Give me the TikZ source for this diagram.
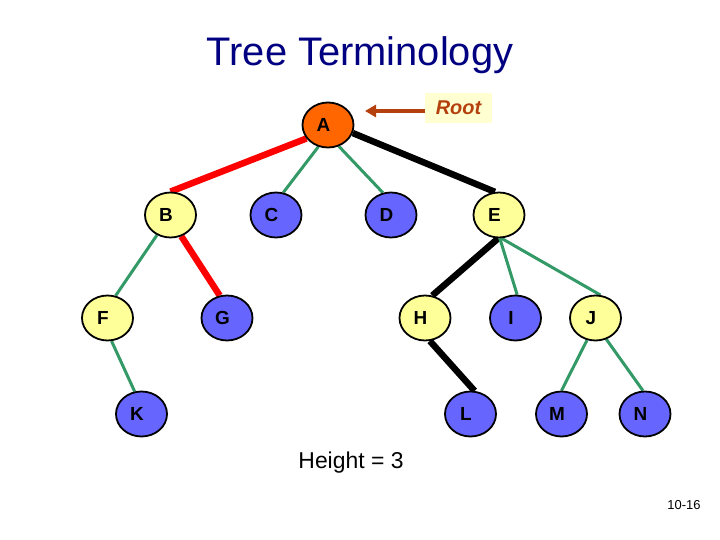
\documentclass[tikz,border=0pt]{standalone}
\usepackage{fontspec}
\setmainfont{Liberation Sans}
\usetikzlibrary{shapes.geometric,arrows.meta}
\pgfdeclarelayer{background}
\pgfsetlayers{background,main}
\definecolor{nyellow}{HTML}{FFFF99}
\definecolor{nblue}{HTML}{6666FF}
\definecolor{norange}{HTML}{FF6600}
\definecolor{egreen}{HTML}{339966}
\definecolor{ered}{HTML}{FF0000}
\definecolor{rootbrown}{HTML}{B4400E}
\definecolor{rootfill}{HTML}{FFFFD2}
\definecolor{titleblue}{HTML}{000080}
\tikzset{
  treenode/.style={ellipse, draw=black, line width=1.8bp, minimum width=51bp, minimum height=45bp, inner sep=0pt,
    font=\fontsize{19}{21}\selectfont\bfseries},
  yel/.style={treenode, fill=nyellow},
  blu/.style={treenode, fill=nblue},
  ora/.style={treenode, fill=norange},
  gedge/.style={draw=egreen, line width=3bp},
  redge/.style={draw=ered, line width=6.5bp},
  kedge/.style={draw=black, line width=6.5bp},
}
\newcommand{\lbl}[1]{#1\kern9bp\relax}
\begin{document}
\begin{tikzpicture}[x=1bp,y=-1bp]
\useasboundingbox (0,0) rectangle (720,540);
\node[anchor=base, text=titleblue, font=\fontsize{40}{44}\selectfont] (title) at (360,66) {Tree Terminology};

\node[ora] (A) at (328,125) {\lbl{A}};
\node[yel] (B) at (170.5,215) {\lbl{B}};
\node[blu] (C) at (276,215) {\lbl{C}};
\node[blu] (D) at (391,215) {\lbl{D}};
\node[yel] (E) at (499,215) {\lbl{E}};
\node[yel] (F) at (107.5,318) {\lbl{F}};
\node[blu] (G) at (227,318) {\lbl{G}};
\node[yel] (H) at (425,318) {\lbl{H}};
\node[blu] (I) at (515.5,318) {\lbl{I}};
\node[yel] (J) at (595.5,318) {\lbl{J}};
\node[blu] (K) at (141.5,414) {\lbl{K}};
\node[blu] (L) at (470.5,414) {\lbl{L}};
\node[blu] (M) at (561.5,414) {\lbl{M}};
\node[blu] (N) at (645,414) {\lbl{N}};

\begin{pgfonlayer}{background}
\draw[redge] (A.212) -- (B.north);
\draw[gedge] (A.246) -- (C.72);
\draw[gedge] (A.297) -- (D.110);
\draw[kedge] (A.342) -- (E.100);
\draw[gedge] (B.236) -- (F.70);
\draw[redge] (B.297) -- (G.108);
\draw[kedge] (E.268) -- (H.72);
\draw[gedge] (E.272) -- (I.86);
\draw[gedge] (E.276) -- (J.78);
\draw[gedge] (F.280) -- (K.107);
\draw[kedge] (H.282) -- (L.80);
\draw[gedge] (J.249) -- (M.90);
\draw[gedge] (J.297) -- (N.95);
\end{pgfonlayer}

\node[fill=rootfill, minimum width=67bp, minimum height=30bp, inner sep=0pt, text=rootbrown,
  font=\fontsize{20}{22}\selectfont\bfseries\itshape] (root) at (458.5,108) {Root};
\coordinate (tip) at (365,111);
\draw[draw=rootbrown, line width=4bp, -{Triangle[length=11bp,width=12bp]}] (root.west |- tip) -- (tip);

\node[font=\fontsize{23}{26}\selectfont] (height) at (351,463) {Height = 3};
\node[font=\fontsize{13}{15}\selectfont] (page) at (684,505) {10-16};
\end{tikzpicture}
\end{document}
